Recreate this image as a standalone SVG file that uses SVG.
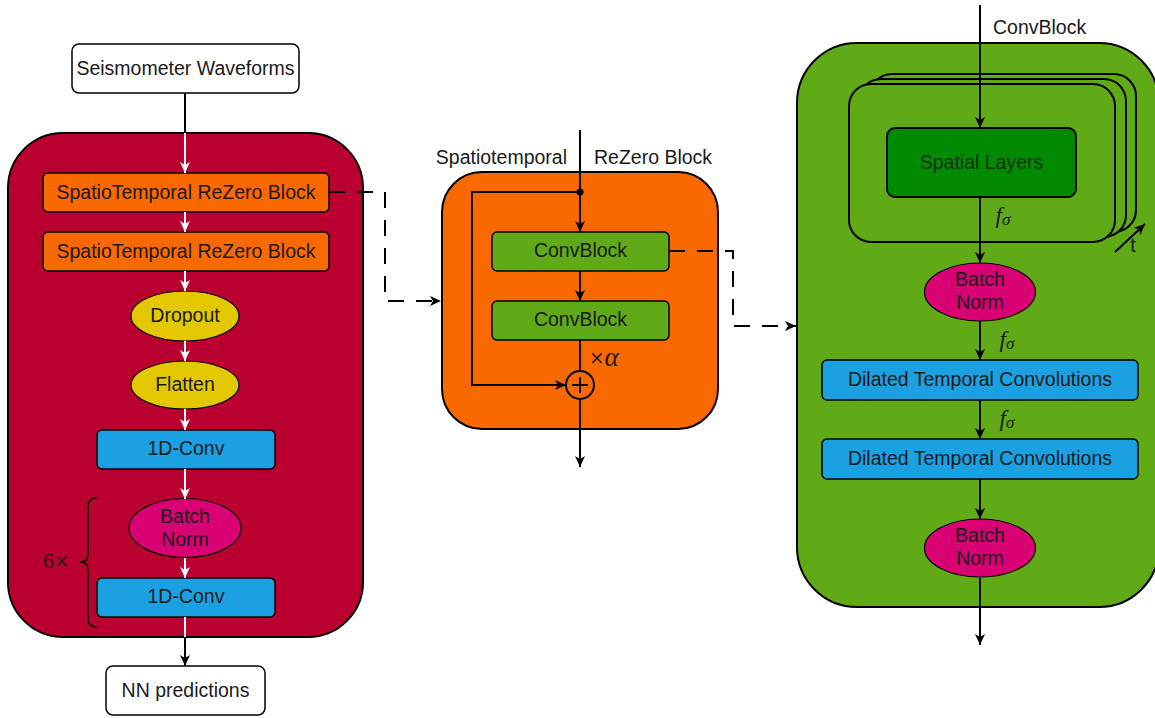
<svg xmlns="http://www.w3.org/2000/svg" width="1155" height="718" viewBox="0 0 1155 718">
<style>
text{font-family:"Liberation Sans",Arial,sans-serif;font-size:19.5px;fill:#1a1a1a;text-anchor:middle;dominant-baseline:central}
.math{font-family:"Liberation Serif","DejaVu Serif",serif;font-style:italic;font-size:23px}
.times{font-family:"DejaVu Serif",serif;font-style:normal}
.k{stroke:#000;stroke-width:2;fill:none}
.w{stroke:#fff;stroke-width:2;fill:none}
.d{stroke:#000;stroke-width:2;fill:none;stroke-dasharray:16 12}
.box{stroke:#000;stroke-width:1.5}
</style>
<defs>
<marker id="ak" markerUnits="userSpaceOnUse" markerWidth="12" markerHeight="12" viewBox="0 0 12 12" refX="11" refY="6" orient="auto"><path d="M0,1 L11,6 L0,11 L3,6 z" fill="#000"/></marker>
<marker id="aw" markerUnits="userSpaceOnUse" markerWidth="12" markerHeight="12" viewBox="0 0 12 12" refX="11" refY="6" orient="auto"><path d="M0,1 L11,6 L0,11 L3,6 z" fill="#fff"/></marker>
</defs>

<g id="main-container"><rect x="8" y="133" width="355" height="504" rx="55" fill="#BA002F" stroke="#000" stroke-width="2"/></g>
<g id="rezero-container"><rect x="442" y="172" width="276" height="257" rx="40" fill="#FA6800" stroke="#000" stroke-width="2"/></g>
<g id="convblock-container"><rect x="797" y="43" width="362" height="564" rx="60" fill="#60A917" stroke="#000" stroke-width="2"/></g>

<g id="input"><rect x="72" y="44" width="227" height="49" rx="7" fill="#fff" class="box"/><text x="185.5" y="68">Seismometer Waveforms</text></g>
<g id="strz1"><rect x="43" y="173" width="286" height="39" rx="5" fill="#FA6800" class="box"/><text x="186" y="192">SpatioTemporal ReZero Block</text></g>
<g id="strz2"><rect x="43" y="232" width="286" height="39" rx="5" fill="#FA6800" class="box"/><text x="186" y="251">SpatioTemporal ReZero Block</text></g>
<g id="dropout"><ellipse cx="185" cy="316" rx="54" ry="25" fill="#E3C800" stroke="#000" stroke-width="1.2"/><text x="185" y="314.5">Dropout</text></g>
<g id="flatten"><ellipse cx="185" cy="385" rx="54" ry="24" fill="#E3C800" stroke="#000" stroke-width="1.2"/><text x="185" y="383.5">Flatten</text></g>
<g id="conv1d-1"><rect x="97" y="430" width="178" height="39" rx="5" fill="#1BA1E2" class="box"/><text x="186" y="448">1D-Conv</text></g>
<g id="bn-left"><ellipse cx="185" cy="528" rx="56" ry="29.5" fill="#D80073" stroke="#000" stroke-width="1.2"/><text x="185" y="515.5">Batch</text><text x="185" y="538.5">Norm</text></g>
<g id="conv1d-2"><rect x="97" y="578" width="178" height="39" rx="5" fill="#1BA1E2" class="box"/><text x="186" y="596">1D-Conv</text></g>
<g id="repeat-brace"><path d="M97,498 Q88,498 88,506 L88,554 Q88,562 80,562 Q88,562 88,570 L88,619 Q88,627 97,627" fill="none" stroke="#000" stroke-width="1.5"/><text x="56" y="560" style="font-family:'Liberation Serif','DejaVu Serif',serif;font-size:22px">6<tspan class="times" font-size="18">×</tspan></text></g>
<g id="output"><rect x="106" y="666" width="159" height="49" rx="7" fill="#fff" class="box"/><text x="185.5" y="689.5">NN predictions</text></g>

<g id="rezero-labels"><text x="567" y="156.5" style="text-anchor:end">Spatiotemporal</text><text x="594" y="156.5" style="text-anchor:start">ReZero Block</text></g>
<g id="convblock-a"><rect x="492" y="232" width="177" height="39" rx="5" fill="#60A917" class="box"/><text x="580.5" y="250">ConvBlock</text></g>
<g id="convblock-b"><rect x="492" y="301" width="177" height="39" rx="5" fill="#60A917" class="box"/><text x="580.5" y="319">ConvBlock</text></g>
<g id="sum"><circle cx="580" cy="385" r="14" fill="#FA6800" stroke="#000" stroke-width="2"/><path d="M572,385 H588 M580,377 V393" stroke="#000" stroke-width="2"/></g>
<g id="alpha"><text class="math" x="604" y="357" style="font-size:27px"><tspan class="times" font-size="18">×</tspan>α</text></g>

<g id="convblock-label"><text x="993" y="27" style="text-anchor:start">ConvBlock</text></g>
<g id="time-stack">
<rect x="870" y="74" width="266" height="158" rx="22" fill="#60A917" stroke="#000" stroke-width="2"/>
<rect x="859" y="79" width="267" height="158" rx="22" fill="#60A917" stroke="#000" stroke-width="2"/>
<rect x="849" y="84" width="266" height="158" rx="22" fill="#60A917" stroke="#000" stroke-width="2"/>
<path d="M1115,252 L1145,224" class="k" marker-end="url(#ak)"/>
<text x="1133" y="245">t</text>
</g>
<g id="spatial-layers"><rect x="887" y="128" width="189" height="69" rx="8" fill="#008A00" stroke="#000" stroke-width="2"/><text x="981.5" y="161.5" style="fill:#163016">Spatial Layers</text></g>
<g id="bn-r1"><ellipse cx="980" cy="292" rx="55.5" ry="29" fill="#D80073" stroke="#000" stroke-width="1.2"/><text x="980" y="278.5">Batch</text><text x="980" y="301.5">Norm</text></g>
<g id="dtc1"><rect x="822" y="360" width="316" height="40" rx="5" fill="#1BA1E2" class="box"/><text x="980" y="378.5">Dilated Temporal Convolutions</text></g>
<g id="dtc2"><rect x="822" y="439" width="316" height="40" rx="5" fill="#1BA1E2" class="box"/><text x="980" y="457.5">Dilated Temporal Convolutions</text></g>
<g id="bn-r2"><ellipse cx="980" cy="548" rx="55.5" ry="29" fill="#D80073" stroke="#000" stroke-width="1.2"/><text x="980" y="534.5">Batch</text><text x="980" y="557.5">Norm</text></g>
<g id="fsigma-labels">
<text class="math" x="1003" y="215">f<tspan font-size="17" dy="4">σ</tspan></text>
<text class="math" x="1007" y="339">f<tspan font-size="17" dy="4">σ</tspan></text>
<text class="math" x="1007" y="418">f<tspan font-size="17" dy="4">σ</tspan></text>
</g>

<g id="connectors">
<path d="M185,93 V133" class="k"/>
<path d="M185,133 V173" class="w" marker-end="url(#aw)"/>
<path d="M185,212 V232" class="w" marker-end="url(#aw)"/>
<path d="M185,271 V291" class="w" marker-end="url(#aw)"/>
<path d="M185,341 V361" class="w" marker-end="url(#aw)"/>
<path d="M185,409 V430" class="w" marker-end="url(#aw)"/>
<path d="M185,469 V499" class="w" marker-end="url(#aw)"/>
<path d="M185,558 V578" class="w" marker-end="url(#aw)"/>
<path d="M185,617 V637" class="w"/>
<path d="M185,637 V666" class="k" marker-end="url(#ak)"/>
<path d="M329,192 H385 V301 H441" class="d" marker-end="url(#ak)"/>
<path d="M580,130 V232" class="k" marker-end="url(#ak)"/>
<circle cx="580" cy="192" r="3.5" fill="#000"/>
<path d="M580,192 H472 V385 H566" class="k" marker-end="url(#ak)"/>
<path d="M580,271 V301" class="k" marker-end="url(#ak)"/>
<path d="M580,340 V371" class="k"/>
<path d="M580,399 V467" class="k" marker-end="url(#ak)"/>
<path d="M669,251 H733 V326 H796" class="d" marker-end="url(#ak)"/>
<path d="M980,5 V128" class="k" marker-end="url(#ak)"/>
<path d="M980,197 V263" class="k" marker-end="url(#ak)"/>
<path d="M980,321 V360" class="k" marker-end="url(#ak)"/>
<path d="M980,400 V439" class="k" marker-end="url(#ak)"/>
<path d="M980,479 V519" class="k" marker-end="url(#ak)"/>
<path d="M980,578 V645" class="k" marker-end="url(#ak)"/>
</g>
</svg>
